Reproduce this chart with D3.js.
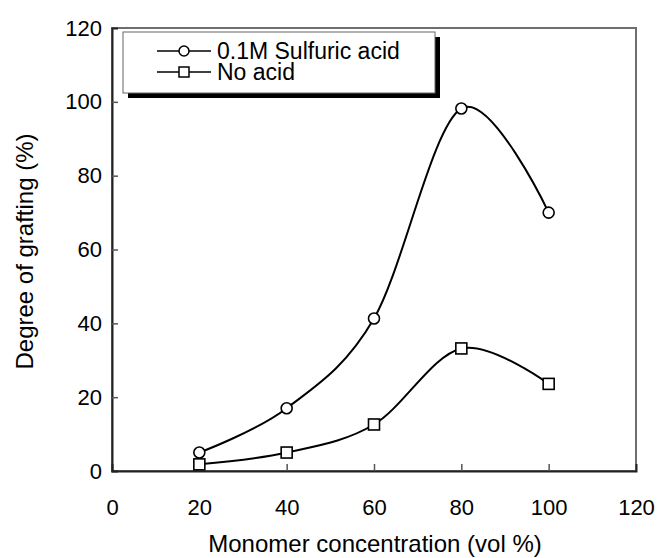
<!DOCTYPE html>
<html>
<head>
<meta charset="utf-8">
<script src="https://cdn.jsdelivr.net/npm/d3@7"></script>
<style>
  html, body { margin: 0; padding: 0; background: #fff; }
  svg { display: block; font-family: "Liberation Sans", Arial, sans-serif; }
</style>
</head>
<body>
<svg id="chart" width="659" height="558"></svg>
<script>
// Monomer concentration (vol %) on x, degree of grafting (%) on y
const concentrations = [20, 40, 60, 80, 100];
const sulfuricAcid = [5, 17, 41.3, 98.2, 70];
const noAcid = [1.8, 5, 12.6, 33.2, 23.6];
const xTicks = [0, 20, 40, 60, 80, 100, 120];
const yTicks = [0, 20, 40, 60, 80, 100, 120];
const seriesNames = ["0.1M Sulfuric acid", "No acid"];

const FONT = "'Liberation Sans', Arial, sans-serif";
const svg = d3.select("#chart");
const plot = { left: 112, right: 636, top: 28, bottom: 471 };

const x = d3.scaleLinear().domain([0, 120]).range([plot.left, plot.right]);
const y = d3.scaleLinear().domain([0, 120]).range([plot.bottom, plot.top]);

// frame
svg.append("rect")
  .attr("x", plot.left).attr("y", plot.top)
  .attr("width", plot.right - plot.left).attr("height", plot.bottom - plot.top)
  .attr("fill", "none").attr("stroke", "#6e6e6e").attr("stroke-width", 2);

// axes with inward ticks
const xAxis = svg.append("g")
  .attr("transform", `translate(0,${plot.bottom})`)
  .call(d3.axisBottom(x).tickValues(xTicks).tickSize(-7).tickPadding(28).tickFormat(d3.format("d")));
const yAxis = svg.append("g")
  .attr("transform", `translate(${plot.left},0)`)
  .call(d3.axisLeft(y).tickValues(yTicks).tickSize(-6).tickPadding(10).tickFormat(d3.format("d")));

[xAxis, yAxis].forEach(g => {
  g.attr("font-family", null).attr("font-size", null);
  g.select(".domain").attr("stroke", "#222").attr("stroke-width", 2);
  g.selectAll(".tick line").attr("stroke", "#555").attr("stroke-width", 1.5);
  g.selectAll(".tick text").attr("fill", "#000")
    .style("font-size", "22px").style("font-family", FONT);
});
xAxis.selectAll(".tick").filter(d => d === 0 || d === 120).select("line").remove();
yAxis.selectAll(".tick").filter(d => d === 0 || d === 120).select("line").remove();

// axis titles
svg.append("text")
  .attr("x", 375).attr("y", 552)
  .attr("text-anchor", "middle").style("font-size", "24px").style("font-family", FONT)
  .text("Monomer concentration (vol %)");
svg.append("text")
  .attr("transform", `translate(33,${(plot.top + plot.bottom) / 2 + 2}) rotate(-90)`)
  .attr("text-anchor", "middle").style("font-size", "24px").style("font-family", FONT)
  .text("Degree of grafting (%)");

// smooth series lines
const line = d3.line()
  .x((d, i) => x(concentrations[i]))
  .y(d => y(d))
  .curve(d3.curveCardinal.tension(0));

svg.append("path").datum(sulfuricAcid)
  .attr("d", line).attr("fill", "none").attr("stroke", "#000").attr("stroke-width", 2);
svg.append("path").datum(noAcid)
  .attr("d", line).attr("fill", "none").attr("stroke", "#000").attr("stroke-width", 2);

// markers
svg.append("g").selectAll("circle").data(sulfuricAcid).join("circle")
  .attr("cx", (d, i) => x(concentrations[i])).attr("cy", d => y(d))
  .attr("r", 5.5).attr("fill", "#fff").attr("stroke", "#000").attr("stroke-width", 1.6);
const sq = 11;
svg.append("g").selectAll("rect").data(noAcid).join("rect")
  .attr("x", (d, i) => x(concentrations[i]) - sq / 2).attr("y", d => y(d) - sq / 2)
  .attr("width", sq).attr("height", sq)
  .attr("fill", "#fff").attr("stroke", "#000").attr("stroke-width", 1.6);

// legend with drop shadow
const lg = { x: 123, y: 32, w: 312, h: 61, shadow: 5 };
svg.append("rect")
  .attr("x", lg.x + lg.shadow).attr("y", lg.y + lg.shadow)
  .attr("width", lg.w).attr("height", lg.h).attr("fill", "#000");
svg.append("rect")
  .attr("x", lg.x).attr("y", lg.y).attr("width", lg.w).attr("height", lg.h)
  .attr("fill", "#fff").attr("stroke", "#666").attr("stroke-width", 1);

const rowY = [51, 72];
seriesNames.forEach((name, i) => {
  const g = svg.append("g");
  g.append("line").attr("x1", 157).attr("x2", 211).attr("y1", rowY[i]).attr("y2", rowY[i])
    .attr("stroke", "#000").attr("stroke-width", 1.6);
  if (i === 0) {
    g.append("circle").attr("cx", 184).attr("cy", rowY[i]).attr("r", 5)
      .attr("fill", "#fff").attr("stroke", "#000").attr("stroke-width", 1.5);
  } else {
    g.append("rect").attr("x", 184 - 5).attr("y", rowY[i] - 5).attr("width", 10).attr("height", 10)
      .attr("fill", "#fff").attr("stroke", "#000").attr("stroke-width", 1.5);
  }
  g.append("text").attr("x", 217).attr("y", rowY[i] + 8)
    .style("font-size", "23px").style("font-family", FONT).text(name);
});
</script>
</body>
</html>
